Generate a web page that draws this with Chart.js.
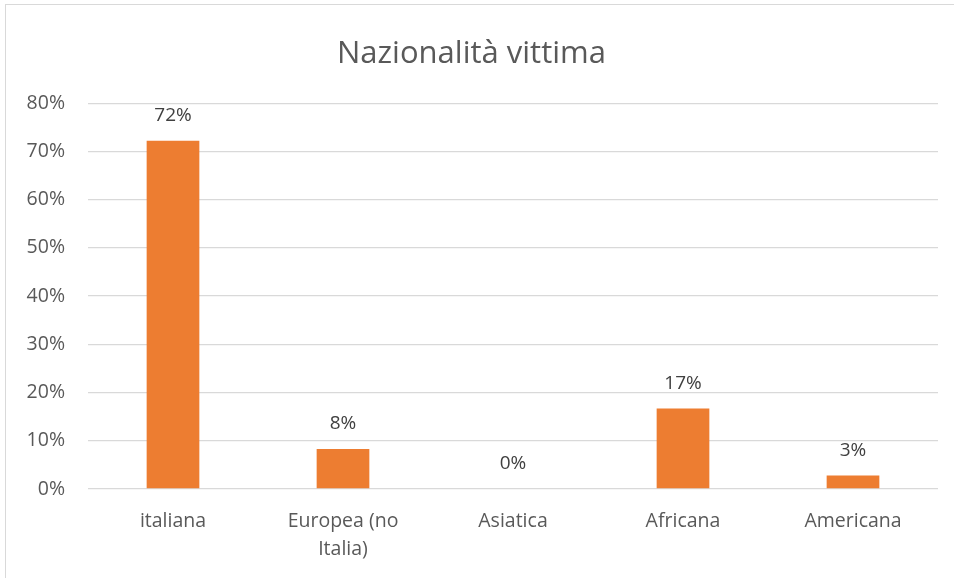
<!DOCTYPE html>
<html>
<head>
<meta charset="utf-8">
<script src="https://cdn.jsdelivr.net/npm/chart.js@4.4.1/dist/chart.umd.min.js"></script>
<style>
    html, body { margin: 0; padding: 0; background: #fff; }
    #wrap { position: relative; width: 954px; height: 578px; overflow: hidden; }
    #frame { position: absolute; left: 5px; top: 4px; width: 960px; height: 590px;
             border: 1px solid #d9d9d9; box-sizing: border-box; }
    canvas { position: absolute; left: 0; top: 0; }
</style>
</head>
<body>
<div id="wrap">
    <div id="frame"></div>
    <canvas id="barChart" width="954" height="578"></canvas>
</div>
<script>
const categories = ["italiana", ["Europea (no", "Italia)"], "Asiatica", "Africana", "Americana"];
const shares = [72.2, 8.3, 0, 16.7, 2.8];
const yTicks = [0, 10, 20, 30, 40, 50, 60, 70, 80];

const FONT = "'Open Sans', sans-serif";

// labels over the bars, like the excel data labels
const barLabels = {
    id: "barLabels",
    afterDatasetsDraw(chart) {
        const ctx = chart.ctx;
        const meta = chart.getDatasetMeta(0);
        ctx.save();
        ctx.font = `19px ${FONT}`;
        ctx.fillStyle = "#404040";
        ctx.textAlign = "center";
        ctx.textBaseline = "middle";
        meta.data.forEach((bar, i) => {
            ctx.fillText(`${Math.round(shares[i])}%`, bar.x, bar.y - 25);
        });
        ctx.restore();
    }
};

new Chart(document.getElementById("barChart"), {
    type: "bar",
    data: {
        labels: categories,
        datasets: [{
            data: shares,
            backgroundColor: "#ED7D31",
            categoryPercentage: 1,
            barPercentage: 0.31
        }]
    },
    options: {
        responsive: false,
        animation: false,
        layout: { padding: { left: 5, right: 16, top: 0, bottom: 0 } },
        plugins: {
            legend: { display: false },
            tooltip: { enabled: false },
            title: {
                display: true,
                text: "Nazionalità vittima",
                color: "#595959",
                font: { family: FONT, size: 31, weight: "normal", lineHeight: 1.2 },
                padding: { top: 36, bottom: 30 }
            }
        },
        scales: {
            x: {
                grid: { display: false },
                border: { display: false },
                ticks: {
                    color: "#595959",
                    font: { family: FONT, size: 19.5, lineHeight: 1.45 },
                    padding: 10,
                    maxRotation: 0
                },
                afterFit: s => { s.height = 89; }
            },
            y: {
                min: 0,
                max: 80,
                afterBuildTicks: s => { s.ticks = yTicks.map(v => ({ value: v })); },
                grid: { color: "#d9d9d9", lineWidth: 1.3, drawTicks: false },
                border: { display: false },
                ticks: {
                    color: "#595959",
                    font: { family: FONT, size: 19.5 },
                    padding: 23,
                    callback: v => `${v}%`
                },
                afterFit: s => { s.width = 83; }
            }
        }
    },
    plugins: [barLabels]
});
</script>
</body>
</html>
